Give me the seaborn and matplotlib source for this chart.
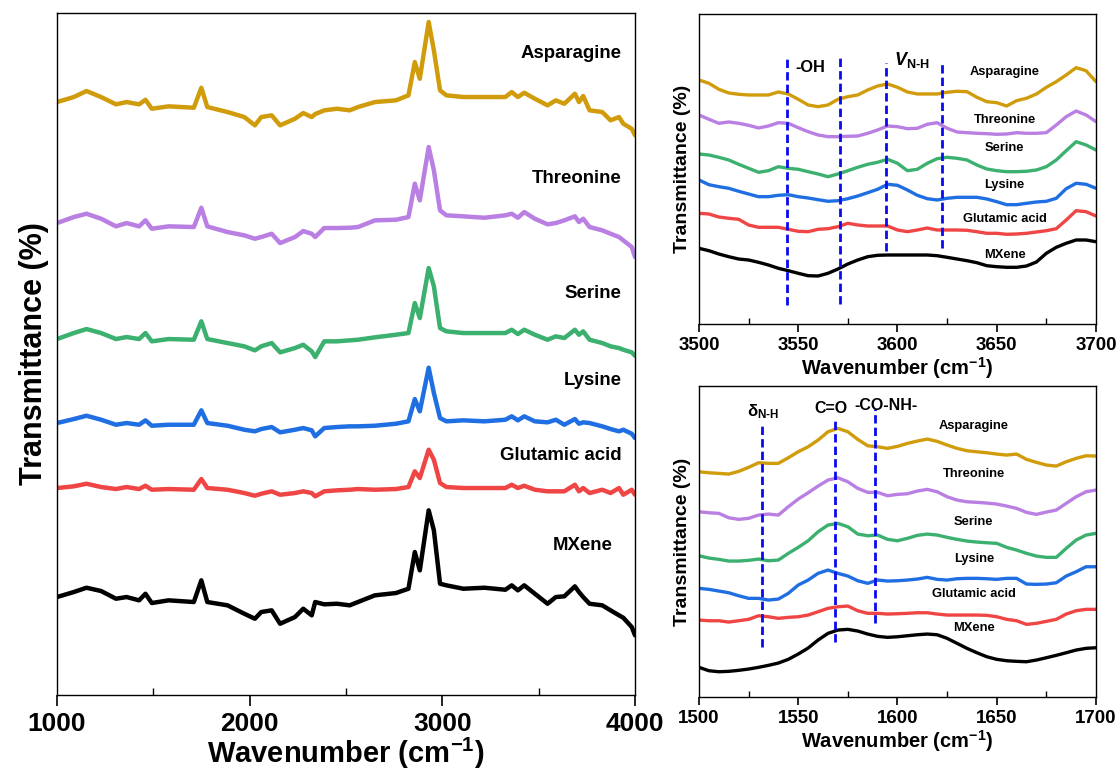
import numpy as np
import pandas as pd
import matplotlib
matplotlib.use("Agg")
import matplotlib.pyplot as plt
from matplotlib.ticker import MultipleLocator
import seaborn as sns

# ---------------------------------------------------------------- data
samples = ["Asparagine", "Threonine", "Serine", "Lysine", "Glutamic acid", "MXene"]
colors = ["#D19C0B", "#B97FE2", "#3CB06E", "#1F6FE3", "#F04545", "#000000"]

# Full-range FTIR spectra (wavenumber, cm-1) -- values in a.u., baseline-relative
wn_full = [1000, 1087, 1153, 1229, 1306, 1361, 1426, 1459, 1492, 1579, 1710, 1749,
           1780, 1885, 1972, 2027, 2060, 2114, 2158, 2235, 2278, 2322, 2340, 2387,
           2453, 2519, 2562, 2650, 2759, 2824, 2857, 2883, 2929, 2956, 2988, 3021,
           3109, 3218, 3327, 3360, 3392, 3425, 3480, 3546, 3589, 3633, 3688, 3709,
           3731, 3764, 3830, 3873, 3917, 3939, 3983, 4000]
asparagine_full = [0, 5, 11, 5, -2.3, 0, -2.3, 2.3, -6.7, -4.3, -5.7, 14.3, -5, -10, -15,
                   -23.3, -15, -13.3, -23.3, -16.7, -11, -15, -12, -8.3, -6.7, -8.3, -5, 0,
                   1.7, 6.7, 40, 23.3, 80, 51.7, 11.7, 6.7, 5, 5, 5, 10, 5, 9.3, 3.3, -3.3,
                   1.7, -1.7, 8.3, 0, 6, -8.3, -10, -18.3, -15, -21.7, -26.7, -33.3]
threonine_full = [0, 6, 9.3, 4.3, -3.3, 0, -3.3, 2.7, -5.7, -3.3, -4, 15.3, -3.3, -9,
                  -12.3, -15.7, -14, -10.7, -20, -14, -8, -10.7, -14, -5, -5, -4.7, -4,
                  2.7, 3.3, 6, 39.3, 22.7, 76, 52.7, 12.7, 7.7, 6.7, 5.3, 7.7, 9.3, 5.3,
                  11, 4.3, -1.3, 0, 2.7, 6.7, 1, 4.3, -4, -7.3, -10.7, -14, -17.3, -24, -34]
serine_full = [0, 6, 10, 6, 0, 2, 0, 6, -2.3, 0, -0.7, 17.7, 0, -4, -7.3, -11.3, -7.3,
               -4, -13.3, -9, -5.7, -12.3, -18, -2.3, -2.3, -1.3, -0.7, 1.7, 4.3, 6, 36,
               21, 71, 52.7, 11, 7.7, 6, 6, 6, 9.3, 5, 9.3, 4.3, -0.7, 2.7, 1, 9.3, 4.3,
               7.7, -0.7, -4, -7.3, -9, -10.7, -13.3, -16.7]
lysine_full = [0, 4, 7.3, 3.3, -1.7, 0, -1.7, 2.7, -2.7, -1.7, -1.7, 12.7, 0, -2.7, -6.7,
               -8.3, -6, -4, -9.3, -6.7, -5, -7.3, -13.3, -5, -4, -3.3, -3.3, -2.7, -0.7,
               1.7, 24, 11.7, 55.3, 30, 5, 1.7, 2.7, 1.7, 3.3, 6.7, 2.7, 6.7, 1.7, 0.7,
               3.3, -1.7, 4, -0.7, 0.7, 0, -3.3, -6, -8.3, -6.7, -10.7, -15]
glutamic_full = [0, 1.7, 4.3, 1, -1, 1, -1, 2.3, -1.7, -1, -1.7, 9, 0, -1.7, -5, -7.7,
                 -5.7, -3.3, -6.7, -5, -3.3, -5, -8.3, -3.3, -2.3, -1.7, -1, -1.7, -1, 1,
                 16.7, 10, 38.3, 28.3, 5, 1, 0, 0, 0, 3.3, 0, 2.3, -1.7, -3.3, -3.3, -3.3,
                 3.3, -3.3, 0, -5, -1.7, -5, 0, -6.7, -1.7, -6.7]
mxene_full = [0, 5, 9.3, 6, -1.7, 0, -3.3, 3.3, -6, -3.3, -5, 16.7, -5, -8.3, -16.7,
              -21.7, -15, -13.3, -26.7, -20, -11.7, -18.3, -5, -7.3, -6.7, -8.3, -5, 1.7,
              4, 8.3, 45, 26.7, 86.7, 66.7, 13.3, 11.7, 8.3, 9.3, 7.3, 11.7, 6.7, 11.7,
              3.3, -6.7, 0, 0.7, 10.7, 5, 0, -6.7, -8.3, -13.3, -18.3, -20.7, -30, -38.3]
offsets_full = [593, 472, 356, 272, 207, 98]

# 3500-3700 cm-1 region (stacked a.u.)
wn_high = np.arange(3500, 3701, 5)
asparagine_high = [244.0, 240.7, 234.7, 231.0, 229.7, 229.0, 229.0, 229.0, 232.0, 230.0,
                   224.7, 219.0, 217.3, 219.0, 224.7, 227.3, 229.0, 234.0, 238.0, 240.0,
                   236.7, 232.0, 230.0, 230.0, 230.0, 231.7, 232.7, 232.3, 226.7, 222.3,
                   221.3, 218.0, 223.3, 225.7, 230.0, 236.7, 242.3, 249.0, 256.3, 253.3, 242.3]
threonine_high = [209.0, 204.7, 200.7, 202.0, 200.7, 198.7, 196.0, 198.0, 201.3, 200.7,
                  196.3, 192.3, 189.0, 187.3, 187.3, 187.7, 188.0, 190.7, 194.0, 198.0,
                  197.3, 195.3, 195.7, 199.7, 201.3, 195.7, 192.0, 191.3, 190.7, 190.3,
                  189.7, 190.0, 191.3, 190.7, 190.7, 191.3, 199.0, 207.3, 213.0, 209.0, 202.3]
serine_high = [170.0, 169.0, 166.7, 164.0, 159.7, 155.7, 151.7, 153.3, 157.3, 155.7,
               154.7, 152.3, 150.0, 147.3, 150.0, 153.3, 156.7, 159.7, 161.7, 164.7,
               160.7, 153.3, 154.7, 160.7, 165.3, 166.7, 165.7, 164.0, 159.0, 155.0,
               153.3, 152.3, 152.3, 152.7, 154.0, 157.3, 164.0, 173.3, 182.3, 179.0, 174.0]
lysine_high = [144.0, 139.3, 137.3, 135.7, 132.7, 130.0, 127.3, 127.3, 128.7, 129.3,
               127.3, 126.0, 124.3, 122.7, 123.3, 125.3, 128.0, 131.3, 134.7, 139.7,
               138.7, 134.0, 128.7, 125.3, 124.0, 125.7, 126.7, 126.7, 126.7, 125.0,
               122.3, 119.3, 119.3, 120.7, 122.0, 122.7, 125.7, 135.3, 140.7, 139.7, 135.7]
glutamic_high = [110.7, 110.0, 107.0, 105.7, 104.7, 99.0, 96.7, 96.7, 96.7, 94.7,
                 92.7, 92.3, 94.7, 95.3, 97.3, 100.7, 99.0, 98.0, 98.0, 98.0,
                 94.0, 92.3, 94.0, 96.0, 94.0, 94.0, 94.0, 93.7, 92.3, 90.7,
                 90.7, 89.7, 90.0, 90.7, 92.0, 93.3, 95.3, 104.0, 113.3, 112.3, 108.0]
mxene_high = [75.7, 73.3, 70.0, 67.3, 65.0, 64.0, 61.7, 59.0, 55.7, 53.3,
              50.7, 48.3, 48.0, 50.7, 55.0, 60.0, 64.0, 67.3, 68.7, 69.0,
              69.0, 69.0, 69.0, 69.0, 68.3, 66.7, 65.0, 63.3, 61.3, 58.3,
              57.3, 56.7, 56.7, 58.0, 62.0, 70.7, 76.7, 80.7, 84.0, 84.0, 82.3]

# 1500-1700 cm-1 region (stacked a.u.)
wn_low = np.arange(1500, 1701, 5)
asparagine_low = [225.3, 224.3, 223.7, 223.0, 225.7, 229.7, 234.3, 233.7, 233.7, 239.3,
                  245.3, 250.3, 257.0, 265.3, 268.7, 265.3, 257.7, 251.3, 250.3, 248.7,
                  250.7, 253.7, 256.0, 258.0, 255.7, 252.0, 248.7, 246.3, 245.3, 244.3,
                  243.0, 242.0, 243.0, 237.7, 234.7, 232.0, 231.0, 235.3, 238.7, 241.3, 241.0]
threonine_low = [185.3, 184.3, 183.7, 179.3, 177.7, 178.7, 182.0, 183.0, 182.0, 190.3,
                 198.0, 204.3, 211.0, 217.0, 219.3, 215.3, 208.7, 204.7, 204.7, 201.3,
                 202.7, 203.3, 206.0, 207.7, 205.3, 200.3, 197.0, 195.3, 194.7, 194.0,
                 193.0, 191.0, 188.7, 184.7, 182.7, 185.0, 187.0, 193.7, 200.3, 205.3, 207.0]
serine_low = [141.3, 139.0, 137.7, 136.0, 136.0, 136.7, 138.0, 136.3, 137.0, 143.7,
              149.7, 156.3, 165.3, 172.0, 173.7, 170.3, 163.0, 161.3, 162.0, 157.7,
              156.3, 158.7, 161.7, 163.0, 162.0, 159.7, 157.7, 156.0, 155.0, 154.3,
              153.7, 149.7, 147.0, 143.7, 141.0, 139.7, 139.7, 148.7, 157.0, 162.0, 163.7]
lysine_low = [108.7, 107.7, 106.0, 104.3, 101.3, 98.7, 98.7, 97.0, 98.0, 103.7,
              112.0, 117.0, 123.7, 127.0, 123.7, 121.0, 116.3, 113.7, 117.0, 116.0,
              116.3, 117.0, 118.0, 119.7, 117.7, 117.0, 118.3, 118.7, 118.7, 118.3,
              117.7, 118.7, 118.7, 113.0, 112.7, 113.0, 114.3, 121.0, 125.3, 130.3, 130.3]
glutamic_low = [77.0, 76.3, 76.3, 75.0, 76.3, 77.7, 81.3, 80.3, 78.7, 79.7,
                80.3, 82.0, 85.3, 88.7, 90.3, 91.0, 86.3, 83.7, 83.7, 83.0,
                83.3, 83.7, 84.3, 84.3, 83.0, 82.0, 82.0, 82.0, 82.0, 81.7,
                80.3, 77.7, 76.3, 72.7, 73.7, 75.7, 77.7, 83.0, 86.3, 87.7, 87.7]
mxene_low = [29.7, 26.3, 25.3, 25.7, 26.7, 28.0, 29.7, 31.7, 34.0, 37.7,
             43.0, 49.0, 57.0, 63.7, 67.0, 67.7, 66.0, 63.0, 60.7, 59.7,
             60.3, 61.3, 62.3, 63.0, 62.3, 58.7, 53.7, 48.7, 44.3, 40.3,
             37.7, 36.3, 35.7, 35.3, 37.0, 39.3, 41.7, 44.3, 47.0, 48.7, 49.3]

# band markers: (wavenumber, y_bottom, y_top)
bands_high = [(3544.2, 19, 267), (3571.0, 20, 269), (3594.2, 73, 261), (3622.3, 76, 263)]
bands_low = [(1531.9, 50, 272), (1568.5, 55, 280), (1588.7, 74, 288)]

# sample label anchors
labels_full_y = [642, 517, 402, 315, 240, 150]
labels_high_y = [252, 204, 176, 139, 105, 69]
labels_low_y = [271, 223, 175, 138, 103, 69]

# ---------------------------------------------------------------- style
sns.set_theme(style="white")
plt.rcParams.update({
    "font.family": ["Liberation Sans", "DejaVu Sans"],
    "font.weight": "bold",
    "axes.labelweight": "bold",
    "text.color": "black",
    "axes.labelcolor": "black",
    "mathtext.fontset": "custom",
    "mathtext.rm": "Liberation Sans:bold",
    "mathtext.bf": "Liberation Sans:bold",
    "mathtext.it": "Liberation Sans:italic:bold",
    "axes.edgecolor": "black",
    "axes.linewidth": 1.0,
    "xtick.color": "black",
    "ytick.color": "black",
    "xtick.labelcolor": "black",
})

fig = plt.figure(figsize=(11.18, 7.72), dpi=100)
ax_full = fig.add_axes([0.0510, 0.0997, 0.5170, 0.8834])
ax_high = fig.add_axes([0.6252, 0.5803, 0.3551, 0.4016])
ax_low = fig.add_axes([0.6252, 0.0971, 0.3551, 0.4028])

full_series = [asparagine_full, threonine_full, serine_full, lysine_full, glutamic_full, mxene_full]
high_series = [asparagine_high, threonine_high, serine_high, lysine_high, glutamic_high, mxene_high]
low_series = [asparagine_low, threonine_low, serine_low, lysine_low, glutamic_low, mxene_low]

# ---- full range
for name, vals, off, c in zip(samples, full_series, offsets_full, colors):
    df = pd.DataFrame({"wn": wn_full, "T": np.asarray(vals) + off})
    sns.lineplot(data=df, x="wn", y="T", ax=ax_full, color=c, lw=3.2, sort=False)
for name, y in zip(samples, labels_full_y):
    xa = 3885 if name == "MXene" else 3930
    ax_full.text(xa, y, name, ha="right", va="center", fontsize=13.4, fontweight="bold")
ax_full.set_xlim(1000, 4000)
ax_full.set_ylim(0, 682)
ax_full.xaxis.set_major_locator(MultipleLocator(1000))
ax_full.xaxis.set_minor_locator(MultipleLocator(500))
ax_full.set_yticks([])
ax_full.tick_params(axis="x", which="major", direction="out", length=8, width=1.2,
                    labelsize=19, pad=4, bottom=True)
ax_full.tick_params(axis="x", which="minor", direction="in", length=5, width=1.0, bottom=True)
for t in ax_full.get_xticklabels():
    t.set_fontweight("bold")
ax_full.set_xlabel("Wavenumber (cm$^{-1}$)", fontsize=21, fontweight="bold", labelpad=0)
ax_full.set_ylabel("Transmittance (%)", fontsize=22, fontweight="bold", labelpad=6)


def style_small(ax, lo, hi):
    ax.set_xlim(lo, hi)
    ax.xaxis.set_major_locator(MultipleLocator(50))
    ax.xaxis.set_minor_locator(MultipleLocator(25))
    ax.set_yticks([])
    ax.tick_params(axis="x", which="major", direction="out", length=6, width=1.2,
                   labelsize=13.5, pad=3, bottom=True)
    ax.tick_params(axis="x", which="minor", direction="in", length=4, width=1.0, bottom=True)
    for t in ax.get_xticklabels():
        t.set_fontweight("bold")
    ax.set_xlabel("Wavenumber (cm$^{-1}$)", fontsize=14.5, fontweight="bold", labelpad=1)
    ax.set_ylabel("Transmittance (%)", fontsize=14, fontweight="bold", labelpad=6)


# ---- 3500-3700 region
for vals, c in zip(high_series, colors):
    df = pd.DataFrame({"wn": wn_high, "T": vals})
    sns.lineplot(data=df, x="wn", y="T", ax=ax_high, color=c, lw=2.4, sort=False)
for x, y0, y1 in bands_high:
    ax_high.plot([x, x], [y0, y1], color="#0A0AF0", lw=2.0, ls=(0, (3, 1.5)))
for name, y in zip(samples, labels_high_y):
    ax_high.text(3654, y, name, ha="center", va="center", fontsize=9.3, fontweight="bold")
ax_high.text(3556, 256, "-OH", ha="center", va="center", fontsize=11.8, fontweight="bold")
ax_high.text(3607, 264, r"$\mathit{V}_{\text{N-H}}$", ha="center", va="center", fontsize=13)
ax_high.set_ylim(0, 310)
style_small(ax_high, 3500, 3700)

# ---- 1500-1700 region
for vals, c in zip(low_series, colors):
    df = pd.DataFrame({"wn": wn_low, "T": vals})
    sns.lineplot(data=df, x="wn", y="T", ax=ax_low, color=c, lw=2.4, sort=False)
for x, y0, y1 in bands_low:
    ax_low.plot([x, x], [y0, y1], color="#0A0AF0", lw=2.0, ls=(0, (3, 1.5)))
for name, y in zip(samples, labels_low_y):
    ax_low.text(1638.5, y, name, ha="center", va="center", fontsize=9.3, fontweight="bold")
ax_low.text(1532.4, 285, r"δ$_{\text{N-H}}$", ha="center", va="center", fontsize=12)
ax_low.text(1566.3, 289, "C=O", ha="center", va="center", fontsize=11.5, fontweight="bold")
ax_low.text(1594.2, 292, "-CO-NH-", ha="center", va="center", fontsize=11.5, fontweight="bold")
ax_low.set_ylim(0, 311)
style_small(ax_low, 1500, 1700)

for ax in (ax_full, ax_high, ax_low):
    for s in ax.spines.values():
        s.set_visible(True)
        s.set_color("black")
        s.set_linewidth(1.0)

fig.savefig("out.png", dpi=100)
